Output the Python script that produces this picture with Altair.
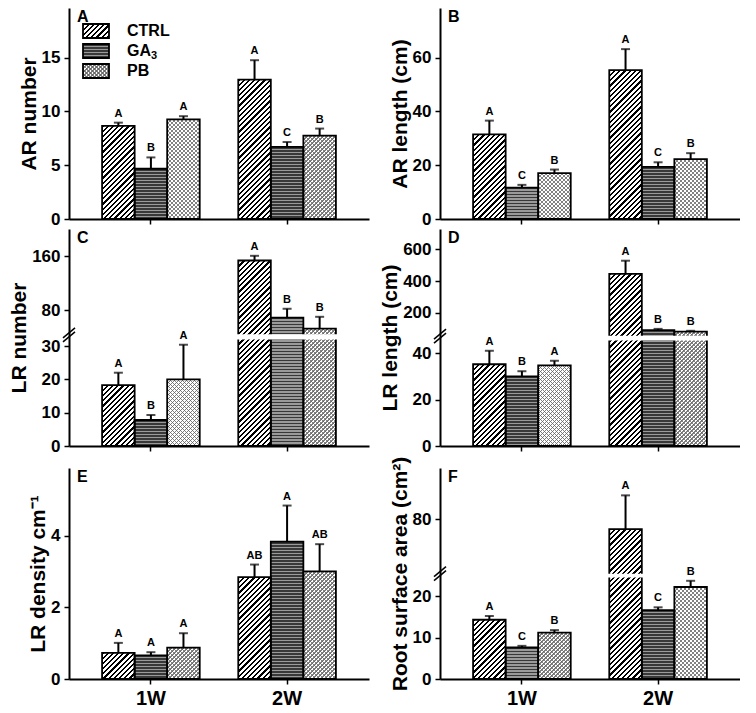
import altair as alt
import pandas as pd
import numpy as np

FONT = "Liberation Sans"

weeks = ["1W", "2W"]
treatments = ["CTRL", "GA3", "PB"]

# order of values: 1W CTRL, 1W GA3, 1W PB, 2W CTRL, 2W GA3, 2W PB
ar_number = [8.65, 4.67, 9.25, 12.95, 6.70, 7.75]
ar_number_se = [0.30, 1.05, 0.30, 1.80, 0.45, 0.65]
ar_number_letters = ["A", "B", "A", "A", "C", "B"]

ar_length = [31.5, 11.7, 17.1, 55.4, 19.4, 22.3]
ar_length_se = [5.1, 1.0, 1.3, 7.8, 1.7, 2.2]
ar_length_letters = ["A", "C", "B", "A", "C", "B"]

lr_number = [18.3, 7.8, 20.0, 154.0, 68.8, 52.4]
lr_number_se = [3.7, 1.5, 10.4, 7.0, 13.2, 17.6]
lr_number_letters = ["A", "B", "A", "A", "B", "B"]

lr_length = [35.2, 30.0, 34.7, 445.0, 90.0, 81.0]
lr_length_se = [5.8, 2.2, 2.0, 83.0, 8.0, 5.0]
lr_length_letters = ["A", "B", "A", "A", "B", "B"]

lr_density = [0.73, 0.66, 0.88, 2.85, 3.84, 3.01]
lr_density_se = [0.28, 0.09, 0.40, 0.35, 1.01, 0.76]
lr_density_letters = ["A", "A", "A", "AB", "A", "AB"]

surface_area = [14.3, 7.6, 11.2, 72.9, 16.6, 22.2]
surface_area_se = [0.9, 0.4, 0.6, 24.9, 0.7, 1.5]
surface_area_letters = ["A", "C", "B", "A", "C", "B"]

W = 300
ROW_H = [211, 217, 211]
PI, PO = 0.283, 0.243
STEP = W / (2 - PI + 2 * PO)
BAR_W = STEP * (1 - PI) / 3


def stripe_stops(L, period, frac, c_on, c_off):
    n = int(np.ceil(L / period))
    stops = []
    for k in range(n):
        a = min(k * period / L, 1.0)
        b = min((k + frac) * period / L, 1.0)
        c = min((k + 1) * period / L, 1.0)
        stops += [{"offset": round(a, 5), "color": c_on},
                  {"offset": round(b, 5), "color": c_on},
                  {"offset": round(b, 5), "color": c_off},
                  {"offset": round(c, 5), "color": c_off}]
    return stops


def diag(w, h, period, frac, c_on, c_off, flip=False):
    h = max(h, 1.0)
    L = w + h
    d = w * w + h * h
    stops = stripe_stops(L, period, frac, c_on, c_off)
    if flip:
        return {"gradient": "linear", "stops": stops, "x1": 0, "y1": 1,
                "x2": round(w * L / d, 5), "y2": round(1 - h * L / d, 5)}
    return {"gradient": "linear", "stops": stops, "x1": 0, "y1": 0,
            "x2": round(w * L / d, 5), "y2": round(h * L / d, 5)}


def horiz(h, period, frac, c_on, c_off):
    h = max(h, 1.0)
    return {"gradient": "linear", "stops": stripe_stops(h, period, frac, c_on, c_off),
            "x1": 0, "y1": 0, "x2": 0, "y2": 1}


def fills(treat, w, h):
    if treat == "CTRL":
        return [diag(w, h, 5.2, 0.42, "#000000", "#ffffff")]
    if treat == "GA3":
        return [horiz(h, 3.0, 0.62, "#383838", "#9a9a9a")]
    return [diag(w, h, 4.0, 0.34, "#808080", "#ffffff"),
            diag(w, h, 4.0, 0.34, "rgba(100,100,100,0.8)", "rgba(255,255,255,0)", flip=True)]


panels = [
    dict(letter="A", title="AR number", vals=ar_number, se=ar_number_se, lets=ar_number_letters,
         dom=[0, 19.6], ref=[223, 5], ticks=[0, 5, 10, 15], row=0, legend=True),
    dict(letter="B", title="AR length (cm)", vals=ar_length, se=ar_length_se, lets=ar_length_letters,
         dom=[0, 78.5], ref=[223, 5], ticks=[0, 20, 40, 60], row=0),
    dict(letter="C", title="LR number", vals=lr_number, se=lr_number_se, lets=lr_number_letters,
         dom=[0, 32, 44, 201], ref=[457.7, 348.3, 343, 235], ticks=[0, 10, 20, 30, 80, 160], row=1),
    dict(letter="D", title="LR length (cm)", vals=lr_length, se=lr_length_se, lets=lr_length_letters,
         dom=[0, 45.4, 55, 728], ref=[456.7, 348, 343, 233], ticks=[0, 20, 40, 200, 400, 600], row=1),
    dict(letter="E", title="LR density cm⁻¹", vals=lr_density, se=lr_density_se, lets=lr_density_letters,
         dom=[0, 5.9], ref=[682.7, 463], ticks=[0, 2, 4], row=2),
    dict(letter="F", title="Root surface area (cm²)", vals=surface_area, se=surface_area_se,
         lets=surface_area_letters, dom=[0, 24.5, 40, 118], ref=[682.7, 577, 573, 463],
         ticks=[0, 10, 20, 80], row=2),
]


def make_panel(p):
    H = ROW_H[p["row"]]
    bottom_ref, top_ref = p["ref"][0], p["ref"][-1]
    rng = [round(H * (r - top_ref) / (bottom_ref - top_ref), 3) for r in p["ref"]]
    dom = p["dom"]
    df = pd.DataFrame({
        "week": [w for w in weeks for t in treatments],
        "treatment": [t for w in weeks for t in treatments],
        "value": p["vals"],
        "upper": [v + e for v, e in zip(p["vals"], p["se"])],
        "letter": p["lets"],
    })
    is_bottom = p["row"] == 2
    x = alt.X("week:N", sort=weeks,
              scale=alt.Scale(domain=weeks, paddingInner=PI, paddingOuter=PO),
              axis=alt.Axis(title=None, labels=is_bottom, labelFontSize=20, labelPadding=4,
                            labelAngle=0, ticks=True, domain=True))
    xo = alt.XOffset("treatment:N", sort=treatments,
                     scale=alt.Scale(domain=treatments, paddingInner=0, paddingOuter=0))
    yscale = alt.Scale(domain=dom, range=rng, nice=False, zero=False)
    yaxis = alt.Axis(title=p["title"], values=p["ticks"], format="d")
    y = alt.Y("value:Q", scale=yscale, axis=yaxis)

    base = alt.Chart(df)
    layers = [base.mark_bar(fill="#ffffff").encode(x=x, xOffset=xo, y=y)]
    for i, row in df.iterrows():
        yv = float(np.interp(row["value"], dom, rng))
        h = H - yv
        for g in fills(row["treatment"], BAR_W, h):
            layers.append(
                base.transform_filter(
                    (alt.datum.week == row["week"]) & (alt.datum.treatment == row["treatment"])
                ).mark_bar(fill=g).encode(x=x, xOffset=xo, y=y)
            )
    layers.append(base.mark_bar(fillOpacity=0, stroke="#000000", strokeWidth=1.8)
                  .encode(x=x, xOffset=xo, y=y))

    one = alt.Chart(pd.DataFrame({"k": [0]}))
    if len(dom) == 4:
        layers.append(one.mark_rect(fill="#ffffff").encode(
            x=alt.value(2), x2=alt.value(W), y=alt.Y(datum=dom[1], scale=yscale, axis=yaxis),
            y2=alt.datum(dom[2])))
        yb = (rng[1] + rng[2]) / 2
        for off in (0, -4):
            layers.append(one.mark_rule(stroke="#000000", strokeWidth=1.5).encode(
                x=alt.value(-6), x2=alt.value(6),
                y=alt.value(yb + 5 + off), y2=alt.value(yb - 5 + off)))

    layers.append(base.mark_rule(stroke="#000000", strokeWidth=2).encode(
        x=x, xOffset=xo, y=alt.Y("value:Q", scale=yscale, axis=yaxis), y2="upper:Q"))
    layers.append(base.mark_tick(color="#000000", size=9, thickness=2, orient="horizontal").encode(
        x=x, xOffset=xo, y=alt.Y("upper:Q", scale=yscale, axis=yaxis)))
    layers.append(base.mark_text(font=FONT, fontSize=11, fontWeight="bold", baseline="bottom",
                                 dy=-4, color="#000000").encode(
        x=x, xOffset=xo, y=alt.Y("upper:Q", scale=yscale, axis=yaxis), text="letter:N"))
    layers.append(one.mark_text(font=FONT, fontSize=16, fontWeight="bold", align="left",
                                baseline="top", color="#000000", text=p["letter"]).encode(
        x=alt.value(8), y=alt.value(1)))

    if p.get("legend"):
        sw_x, sw_w, sw_h = 14, 26, 14
        for j, t in enumerate(treatments):
            top = 16 + 20 * j
            for g in [{"gradient": "linear", "stops": [{"offset": 0, "color": "#fff"}, {"offset": 1, "color": "#fff"}]}] + fills(t, sw_w, sw_h):
                layers.append(one.mark_rect(fill=g).encode(
                    x=alt.value(sw_x), x2=alt.value(sw_x + sw_w),
                    y=alt.value(top), y2=alt.value(top + sw_h)))
            layers.append(one.mark_rect(fillOpacity=0, stroke="#000000", strokeWidth=1.8).encode(
                x=alt.value(sw_x), x2=alt.value(sw_x + sw_w),
                y=alt.value(top), y2=alt.value(top + sw_h)))
            label = "GA" if t == "GA3" else t
            layers.append(one.mark_text(font=FONT, fontSize=16, fontWeight="bold", align="left",
                                        baseline="middle", color="#000000", text=label).encode(
                x=alt.value(58), y=alt.value(top + sw_h / 2)))
            if t == "GA3":
                layers.append(one.mark_text(font=FONT, fontSize=11, fontWeight="bold", align="left",
                                            baseline="middle", color="#000000", text="3").encode(
                    x=alt.value(82), y=alt.value(top + sw_h / 2 + 5)))

    return alt.layer(*layers).properties(width=W, height=H)


charts = [make_panel(p) for p in panels]
chart = alt.concat(*charts, columns=2, spacing={"row": 2, "column": 10}).properties(
    padding=0
).configure_view(stroke=None).configure_axis(
    labelFont=FONT, titleFont=FONT, labelFontWeight="bold", titleFontWeight="bold",
    labelFontSize=17, titleFontSize=21, labelColor="#000000", titleColor="#000000",
    domainColor="#000000", domainWidth=2, tickColor="#000000", tickWidth=1.5, tickSize=5,
    grid=False, labelPadding=4, titlePadding=2
)

chart.save("out.html", embed_options={"renderer": "svg", "actions": False})
